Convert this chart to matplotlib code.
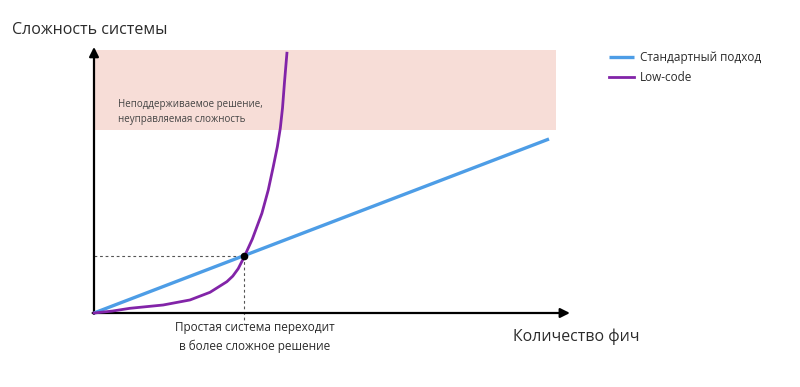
import numpy as np
import matplotlib
matplotlib.use('Agg')
import matplotlib.pyplot as plt
from matplotlib.patches import Rectangle

plt.rcParams['font.family'] = ['Open Sans', 'DejaVu Sans']

# features (x) vs system complexity (y), arbitrary units
standard_x = [0, 10]
standard_y = [0, 10]

lowcode_x = [0, 0.40, 0.79, 1.52, 2.11, 2.55, 2.92, 3.05, 3.17, 3.30, 3.48,
             3.69, 3.83, 3.94, 4.03, 4.095, 4.143, 4.187, 4.24]
lowcode_y = [0, 0.11, 0.27, 0.46, 0.75, 1.19, 1.80, 2.12, 2.55, 3.22, 4.25,
             5.73, 7.07, 8.41, 9.56, 10.63, 11.78, 13.28, 14.93]

cross_x = 3.30
cross_y = 3.26

zone_bottom = 10.52
zone_top = 15.11
zone_right = 10.15

blue = '#4d9de6'
purple = '#8224a8'
pink = '#f7ddd7'
text_col = '#2b2b2b'

fig = plt.figure(figsize=(8, 3.87), dpi=100)
ax = fig.add_axes([0, 0, 1, 1])
ax.set_xlim(-94 / 45.5, 706 / 45.5)
ax.set_ylim(-74 / 17.4, 313 / 17.4)
ax.axis('off')

# unsupported zone
ax.add_patch(Rectangle((0, zone_bottom), zone_right, zone_top - zone_bottom,
                       facecolor=pink, edgecolor='none', zorder=0))
ax.text(0.53, 11.55, 'Неподдерживаемое решение,\nнеуправляемая сложность',
        fontsize=7, color='#444444', va='center', ha='left', linespacing=1.6)

# axes arrows
ax.annotate('', xy=(0, 15.29), xytext=(0, -0.05),
            arrowprops=dict(arrowstyle='-|>', color='black', lw=1.6,
                            mutation_scale=14, shrinkA=0, shrinkB=0))
ax.annotate('', xy=(10.46, 0), xytext=(-0.03, 0),
            arrowprops=dict(arrowstyle='-|>', color='black', lw=1.6,
                            mutation_scale=14, shrinkA=0, shrinkB=0))

# guide lines to the crossing point
ax.plot([0, cross_x], [cross_y, cross_y], color='#555555', lw=0.8,
        ls=(0, (2.5, 2.5)), zorder=1)
ax.plot([cross_x, cross_x], [cross_y, -0.55], color='#555555', lw=0.8,
        ls=(0, (2.5, 2.5)), zorder=1)

ax.plot(standard_x, standard_y, color=blue, lw=2.4, label='Стандартный подход',
        solid_capstyle='butt', zorder=3)
ax.plot(lowcode_x, lowcode_y, color=purple, lw=2.0, label='Low-code',
        solid_joinstyle='round', zorder=4)
ax.plot([cross_x], [cross_y], 'o', color='black', ms=4.5, zorder=5)

ax.text(-1.80, 16.26, 'Сложность системы', fontsize=11.5, color=text_col,
        va='center', ha='left')
ax.text(9.21, -1.38, 'Количество фич', fontsize=11.4, color=text_col,
        va='center', ha='left')
ax.text(3.53, -1.38, 'Простая система переходит\nв более сложное решение',
        fontsize=8.5, color=text_col, va='center', ha='center', linespacing=1.55)

ax.legend(loc='upper left', bbox_to_anchor=(609 / 800, 1 - 51 / 387),
          frameon=False, fontsize=8.5, handlelength=2.1, handletextpad=0.5,
          labelspacing=0.6, borderpad=0, borderaxespad=0, labelcolor=text_col)

fig.savefig('out.png', dpi=100)
